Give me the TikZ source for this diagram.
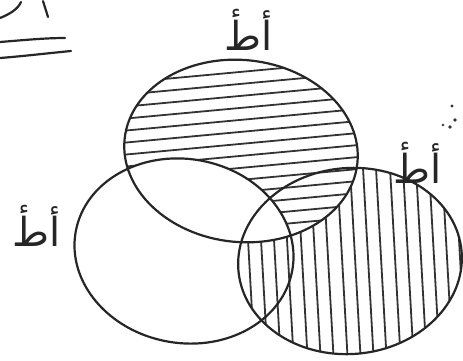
\documentclass[tikz,border=0pt]{standalone}
\usepackage{fontspec}
\newfontfamily\arabicfont[Script=Arabic]{DejaVu Sans}
\TeXXeTstate=1
\begin{document}
\begin{tikzpicture}[x=1pt,y=-1pt,
  ink/.style={line width=2.2pt, draw=black!85, line cap=round, line join=round},
  hatch/.style={line width=1.8pt, draw=black!80, line cap=round},
  lbl/.style={font=\arabicfont\fontsize{40}{44}\selectfont, inner sep=0pt, text=black!85}]
\useasboundingbox (0,0) rectangle (463,360);
\def\topE{(241,151) ellipse [x radius=117pt, y radius=91pt, rotate=-6]}
\def\leftE{(184,251) ellipse [x radius=110pt, y radius=92pt, rotate=-10]}
\def\rightE{(350,261) ellipse [x radius=112pt, y radius=93pt, rotate=5]}
% vertical hatching: right set
\begin{scope}
  \clip \rightE;
  \foreach \x in {243,256,269,282,296,309,322,336,349,362,375,389,402,415,428,441,454}
    \draw[hatch] (\x,150) -- (\x+12,365);
\end{scope}
\fill[white] \topE;
% horizontal hatching: top set minus left set
\begin{scope}
  \clip \topE;
  \foreach \y in {72,84,96,108,120,132,144,156,168,180,192,204,216,228,240,252}
    \draw[hatch] (110,\y+12) -- (380,\y-13);
  \fill[white] \leftE;
\end{scope}
% outlines
\draw[ink] \topE;
\draw[ink] \leftE;
\draw[ink] \rightE;
% labels
\node[lbl] (lt) at (249,30) {\beginR أطٔ\endR};
\node[lbl] (lr) at (418,163) {\beginR أطٔ\endR};
\node[lbl] (ll) at (37,226) {\beginR أطٔ\endR};
% cut-off strokes at the top left corner
\draw[ink] (0,18) .. controls (10,14) and (18,9) .. (21,2);
\draw[ink] (43,1) -- (48,17);
\draw[ink] (0,42) .. controls (25,40) and (45,38) .. (65,38);
\draw[ink] (0,58) .. controls (25,56) and (50,53) .. (71,51);
% dots at the right edge
\fill[black!80] (452,106) circle (1.6pt) (455,120) circle (1.8pt) (443,125) circle (1.4pt) (450,127) circle (1.8pt);
\end{tikzpicture}
\end{document}
